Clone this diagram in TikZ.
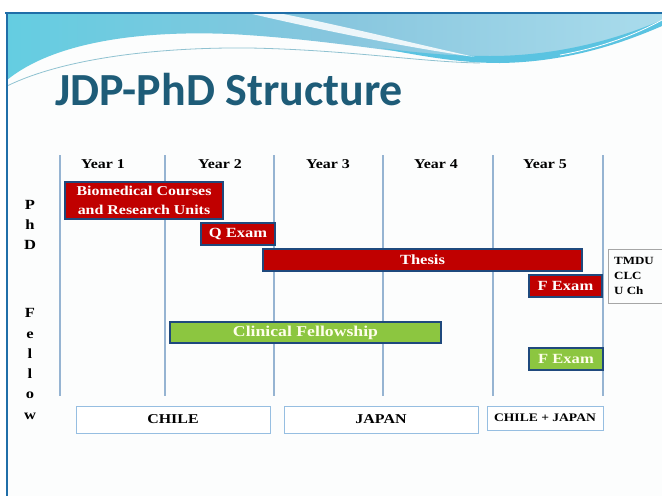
\documentclass[tikz,border=0pt]{standalone}
\usepackage{fontspec}
\setmainfont{Liberation Serif}
\newfontfamily\ttlfont{Carlito}
\newfontfamily\palfont[FakeStretch=1.18]{Liberation Serif}
\definecolor{framecol}{RGB}{31,110,168}
\definecolor{titlecol}{RGB}{30,92,120}
\definecolor{bandL}{RGB}{100,205,225}
\definecolor{bandM}{RGB}{135,198,222}
\definecolor{bandR}{RGB}{170,220,236}
\definecolor{bandC}{RGB}{90,195,225}
\definecolor{barred}{RGB}{192,0,0}
\definecolor{bargreen}{RGB}{140,198,64}
\definecolor{barborder}{RGB}{31,73,125}
\definecolor{gridcol}{RGB}{150,180,210}
\definecolor{placeborder}{RGB}{150,190,225}
\definecolor{slidebg}{RGB}{252,253,253}
\begin{document}
\begin{tikzpicture}[x=1pt,y=-1pt,
  bar/.style={draw=barborder, line width=1.6pt, inner sep=0pt, text=white,
    font=\palfont\bfseries\fontsize{14}{16}\selectfont},
  redbar/.style={bar, fill=barred},
  greenbar/.style={bar, fill=bargreen, text=white!92!yellow},
  place/.style={draw=placeborder, line width=0.8pt, fill=white, inner sep=0pt,
    font=\palfont\bfseries\fontsize{13.5}{15}\selectfont},
  yearlbl/.style={font=\palfont\bfseries\fontsize{13.5}{16}\selectfont},
  sidelbl/.style={align=center, font=\palfont\bfseries\fontsize{14}{20.3}\selectfont},
  yline/.style={draw=gridcol, line width=1.2pt}]
\useasboundingbox (0,0) rectangle (662,496);
\fill[white] (0,0) rectangle (662,496);
\fill[slidebg] (7,13) rectangle (662,496);
% header band
\shade[left color=bandL, right color=bandR, middle color=bandM]
  (7,13) -- (662,13) -- (662,22)
  .. controls (620,42) and (560,60) .. (490,60)
  .. controls (420,58) and (340,40) .. (230,34)
  .. controls (130,30) and (50,45) .. (7,80) -- cycle;
\fill[bandC] (380,48) .. controls (430,58) and (465,63) .. (500,63)
  .. controls (570,62) and (625,42) .. (662,26) -- (662,20)
  .. controls (620,38) and (560,56) .. (490,56)
  .. controls (450,56) and (420,53) .. (380,48) -- cycle;
\fill[white, opacity=0.85] (248,13) -- (278,13)
  .. controls (340,25) and (420,45) .. (475,57)
  .. controls (410,48) and (320,30) .. (248,13) -- cycle;
\draw[bandC!80!black, line width=0.8pt, opacity=0.6] (7,86)
  .. controls (60,60) and (150,47) .. (250,48)
  .. controls (350,50) and (420,62) .. (480,63);
\draw[white, line width=0.8pt] (560,55) .. controls (600,48) and (635,35) .. (662,20);
% frame
\draw[framecol, line width=2pt] (5,13) -- (662,13);
\draw[framecol, line width=2pt] (7,13) -- (7,496);
% title
\node[anchor=base west, inner sep=0pt, text=titlecol,
  font=\ttlfont\bfseries\fontsize{46}{50}\selectfont] (title) at (55,105) {JDP-PhD Structure};
% grid
\foreach \x/\n in {60/a,165/b,274/c,383/d,493/e,603/f}{
  \coordinate (t\n) at (\x,155);
  \coordinate (b\n) at (\x,396);
  \draw[yline] (t\n) -- (b\n);
}
% years
\node[yearlbl] (y1) at (103,164) {Year 1};
\node[yearlbl] (y2) at (220,164) {Year 2};
\node[yearlbl] (y3) at (328,164) {Year 3};
\node[yearlbl] (y4) at (436,164) {Year 4};
\node[yearlbl] (y5) at (545,164) {Year 5};
% side labels
\node[sidelbl] (phd) at (30,225) {P\\h\\D};
\node[sidelbl] (fellow) at (30,364) {F\\e\\l\\l\\o\\w};
% bars
\node[redbar, minimum width=158pt, minimum height=37pt, align=center,
  font=\palfont\bfseries\fontsize{13.5}{19}\selectfont] (bio) at (144,200.5)
  {Biomedical Courses\\and Research Units};
\node[redbar, minimum width=74pt, minimum height=22pt] (qexam) at (238,234) {Q Exam};
\node[redbar, minimum width=319pt, minimum height=22pt] (thesis) at (422.5,260) {Thesis};
\node[redbar, minimum width=73pt, minimum height=22pt] (fexamr) at (565.5,286) {F Exam};
\node[greenbar, minimum width=271pt, minimum height=21pt,
  font=\palfont\bfseries\fontsize{15}{16}\selectfont] (clin) at (305.5,332.5) {Clinical Fellowship};
\node[greenbar, minimum width=74pt, minimum height=22pt] (fexamg) at (566,359) {F Exam};
% institutions
\draw[gray!70, line width=0.7pt] (662,249) -| (608,303) -- (662,303);
\node[anchor=west, inner sep=0pt, align=left,
  font=\palfont\bfseries\fontsize{11}{15.3}\selectfont] (inst) at (614,276) {TMDU\\CLC\\U Ch};
% places
\node[place, minimum width=194pt, minimum height=27pt] (chile) at (173,419.5) {CHILE};
\node[place, minimum width=194pt, minimum height=27pt] (japan) at (381,419.5) {JAPAN};
\node[place, minimum width=116pt, minimum height=24pt,
  font=\palfont\bfseries\fontsize{11.5}{14}\selectfont] (both) at (545,418) {CHILE + JAPAN};
\end{tikzpicture}
\end{document}
